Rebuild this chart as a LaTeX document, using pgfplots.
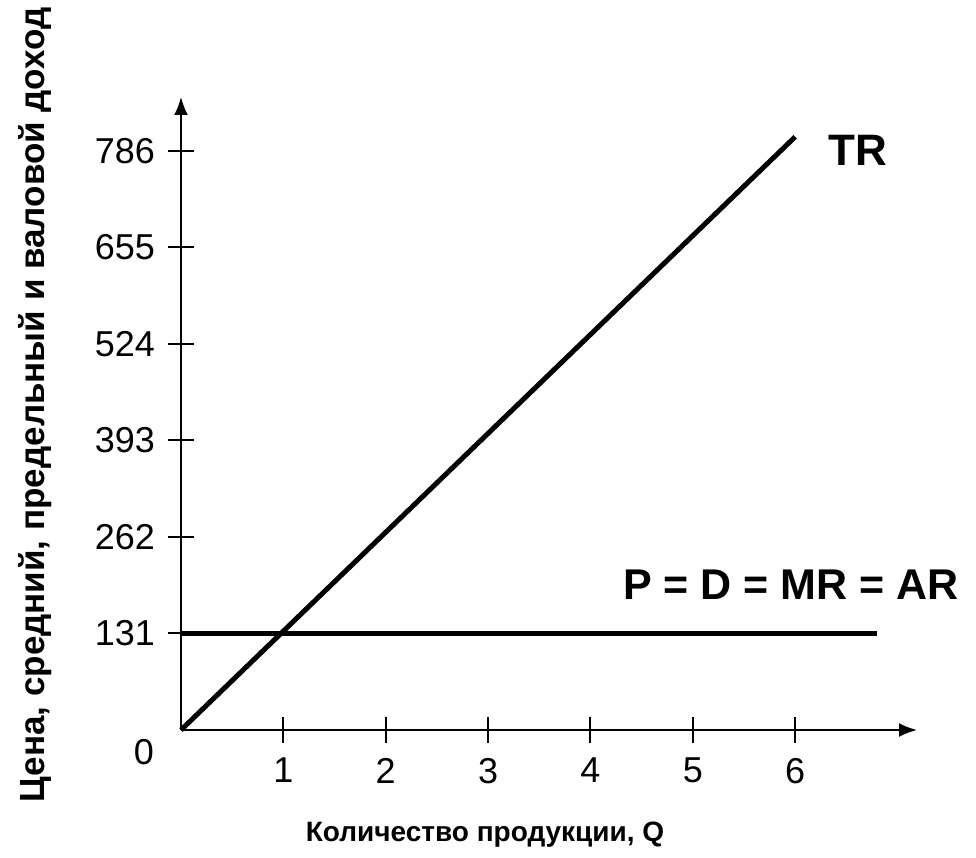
\documentclass[border=0pt]{standalone}
\usepackage{fontspec}
\setmainfont{Liberation Sans}
\usepackage{pgfplots}
\pgfplotsset{compat=1.18}
\usetikzlibrary{arrows.meta}
\begin{document}
\begin{tikzpicture}
\useasboundingbox (-90.5pt,-64pt) rectangle (397.5pt,365pt);
\begin{axis}[
  anchor=origin, at={(0,0)},
  scale only axis,
  width=368pt, height=316.5pt,
  xmin=0, xmax=7.19, ymin=0, ymax=859,
  axis lines=left,
  axis line style={line width=1pt, -{Latex[length=9pt,width=7pt]}},
  xtick={1,2,3,4,5,6},
  ytick={131,262,393,524,655,786},
  tick align=center,
  major tick length=13pt,
  tick style={line width=1pt, black},
  every tick label/.append style={font=\fontsize{18}{20}\selectfont},
  /pgf/number format/assume math mode=true,
  xticklabel style={yshift=-4pt},
  yticklabel style={xshift=-3pt},
  clip=false,
]
\addplot[black, line width=2.5pt] coordinates {(0,0) (6,805)};
\addplot[black, line width=2.5pt] coordinates {(0,131) (6.80,131)};
\node[font=\fontsize{18}{20}\selectfont, anchor=north east] at (axis cs:0,0) [xshift=-10pt,yshift=-1pt] {0};
\node[font=\bfseries\fontsize{22}{24}\selectfont] at (axis cs:6.61,787) {TR};
\node[font=\bfseries\fontsize{21.5}{24}\selectfont] at (axis cs:5.96,197) {P = D = MR = AR};
\node[font=\bfseries\fontsize{14}{16}\selectfont] at (axis cs:2.97,-142.5) {Количество продукции, Q};
\node[font=\bfseries\fontsize{17.5}{19}\selectfont, rotate=90] at (axis cs:-1.43,441) {Цена, средний, предельный и валовой доход};
\end{axis}
\end{tikzpicture}
\end{document}
